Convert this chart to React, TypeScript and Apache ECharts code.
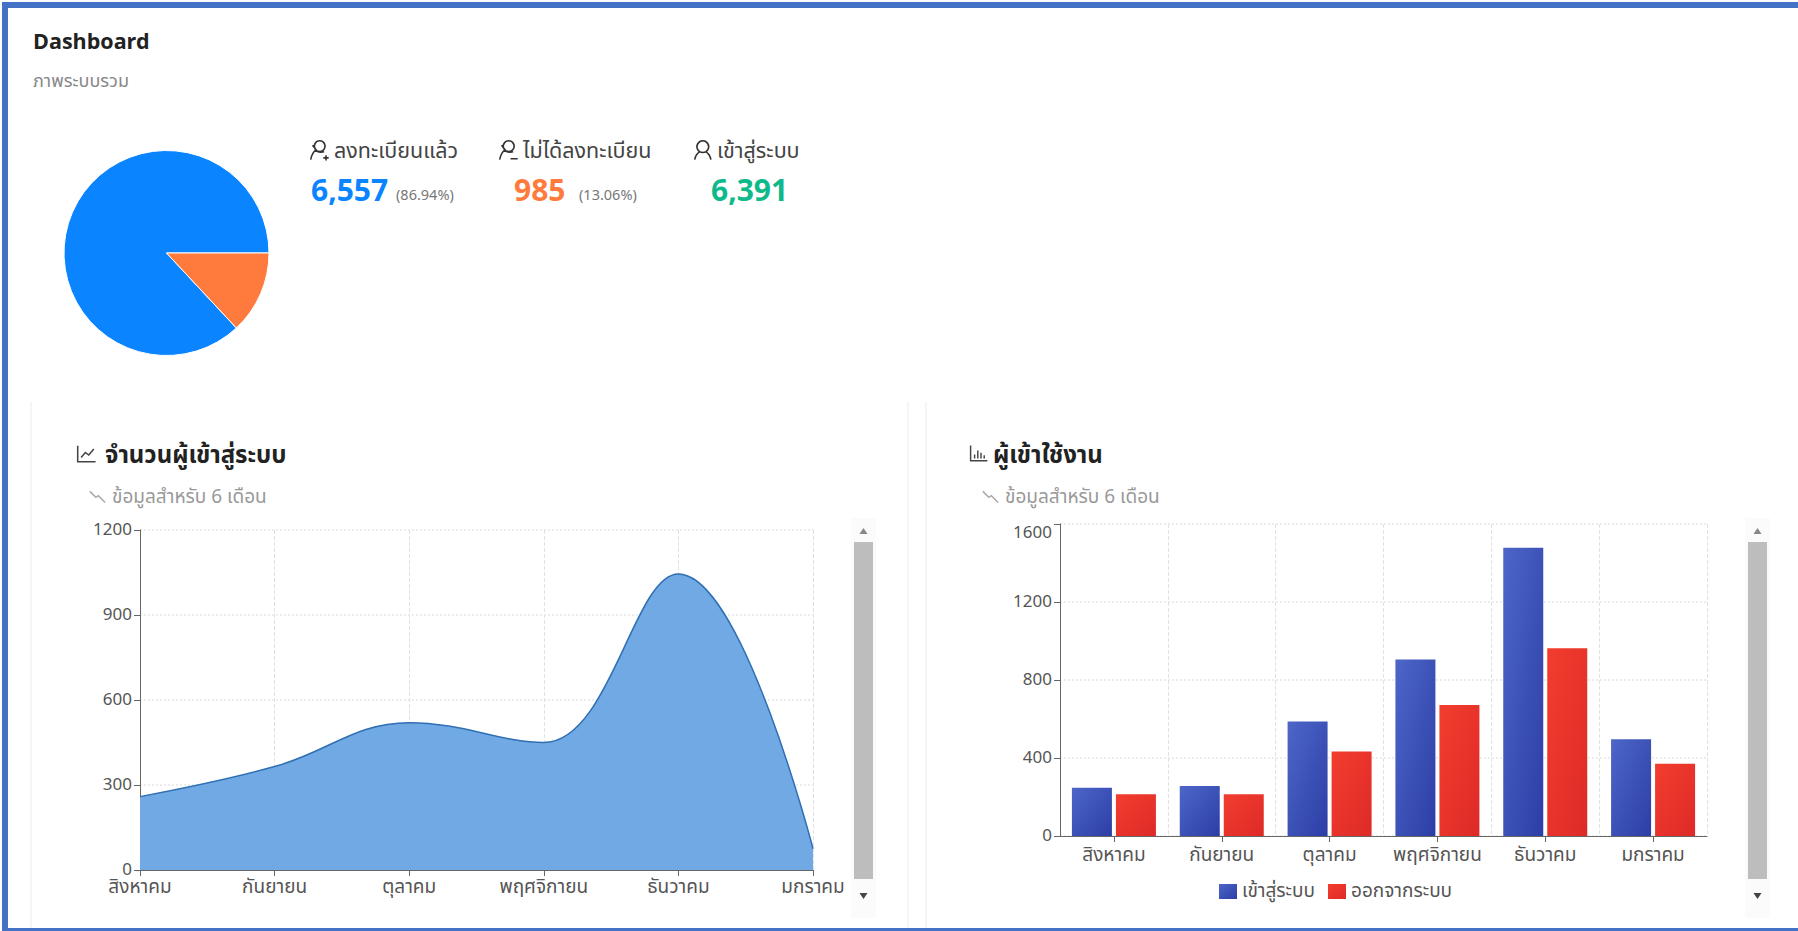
import React, { useEffect, useRef } from "react";
import * as echarts from "echarts";

const months = ["สิงหาคม", "กันยายน", "ตุลาคม", "พฤศจิกายน", "ธันวาคม", "มกราคม"];
const loginTrend = [259, 365, 520, 450, 1045, 75];
const loginValues = [248, 257, 587, 905, 1478, 496];
const logoutValues = [214, 214, 433, 672, 963, 371];
const pieValues = [6557, 985];
const pieNames = ["ลงทะเบียนแล้ว", "ไม่ได้ลงทะเบียน"];

const FONT = "'Noto Sans Thai', Kanit, Prompt, Inter, 'Noto Sans', 'DejaVu Sans', sans-serif";
const TEXT = "#555";

echarts.graphic.registerShape("iconLine", echarts.graphic.extendPath("M2 2V21H23M6 16L11 10L15 13L21 6", {}));
echarts.graphic.registerShape("iconBars", echarts.graphic.extendPath("M2 2V21H23M7 18V13M11 18V8M15 18V11M19 18V14", {}));
echarts.graphic.registerShape("iconDown", echarts.graphic.extendPath("M1 4L8 11L11 9L19 17", {}));
echarts.graphic.registerShape("iconUser", echarts.graphic.extendPath("M12 2A6.5 6.5 0 1 0 12.01 2ZM3 23C4 17 7 15 9 14M21 23C20 17 17 15 15 14", {}));
echarts.graphic.registerShape("iconUserPlus", echarts.graphic.extendPath("M13 2A6 6 0 1 0 13.01 2ZM3 23C4 17 6 14 9 12L5 7M8 13C11 15 16 15 18 14M20 18V24M17 21H23", {}));
echarts.graphic.registerShape("iconUserMinus", echarts.graphic.extendPath("M13 2A6 6 0 1 0 13.01 2ZM3 23C4 17 6 14 9 12L5 7M8 13C11 15 16 15 18 14M15 22H23", {}));

const label = (text: string, x: number, y: number, fontSize: number, fill: string, fontWeight: any = "normal", textAlign = "left") => ({
  type: "text", x, y, z: 20,
  style: { text, fill, fontSize, fontWeight, fontFamily: FONT, textAlign, textVerticalAlign: "middle" },
});
const icon = (type: string, x: number, y: number, s: number, stroke: string) => ({
  type, x, y, scaleX: s, scaleY: s, z: 20,
  style: { fill: "none", stroke, lineWidth: 1.8 },
});
const rect = (x: number, y: number, width: number, height: number, fill: string, z = 1) => ({
  type: "rect", z, silent: true, shape: { x, y, width, height }, style: { fill },
});
const tri = (cx: number, cy: number, up: boolean) => ({
  type: "polygon", z: 12,
  shape: { points: up ? [[cx - 4, cy + 3], [cx + 4, cy + 3], [cx, cy - 3]] : [[cx - 4, cy - 3], [cx + 4, cy - 3], [cx, cy + 3]] },
  style: { fill: up ? "#888" : "#444" },
});
const scrollbar = (x: number) => [
  rect(x - 3, 518, 25, 400, "#fbfbfb", 10),
  rect(x, 542, 19, 337, "#bdbdbd", 11),
  tri(x + 9.5, 531, true),
  tri(x + 9.5, 896, false),
];

const axisCommon = {
  axisLine: { show: true, lineStyle: { color: "#666", width: 1 } },
  axisTick: { show: true, lineStyle: { color: "#666" }, length: 6 },
};
const xLabel = { color: TEXT, fontSize: 19, fontFamily: FONT, interval: 0 };
const yLabel = { color: TEXT, fontSize: 17, fontFamily: FONT, formatter: (v: number) => String(v) };
const vSplit = { show: true, interval: 0, lineStyle: { color: "#e2e2e2", type: "dashed" as const, width: 1 } };
const hSplit = { show: true, lineStyle: { color: "#ececec", type: "dotted" as const, width: 2 } };

export default function App() {
  const ref = useRef<HTMLDivElement>(null);
  useEffect(() => {
    document.body.style.margin = "0";
    const chart = echarts.init(ref.current!, undefined, { renderer: "svg" });
    chart.setOption({
      animation: false,
      backgroundColor: "#fff",
      grid: [
        { left: 140, top: 530, width: 673, height: 340 },
        { left: 1060, top: 524, width: 647, height: 312 },
      ],
      xAxis: [
        { type: "category", gridIndex: 0, data: months, boundaryGap: false, ...axisCommon, axisLabel: { ...xLabel, margin: 8 }, splitLine: vSplit },
        { type: "category", gridIndex: 1, data: months, ...axisCommon, axisLabel: { ...xLabel, margin: 10 }, axisTick: { ...axisCommon.axisTick, alignWithLabel: true, interval: 0 }, splitLine: vSplit },
      ],
      yAxis: [
        { type: "value", gridIndex: 0, min: 0, max: 1200, interval: 300, ...axisCommon, axisLabel: { ...yLabel, margin: 8 }, splitLine: hSplit },
        { type: "value", gridIndex: 1, min: 0, max: 1600, interval: 400, ...axisCommon, axisLabel: { ...yLabel, margin: 8, verticalAlignMaxLabel: "top" }, splitLine: hSplit },
      ],
      legend: {
        data: ["เข้าสู่ระบบ", "ออกจากระบบ"], left: 1214, top: 877, itemWidth: 18, itemHeight: 15, itemGap: 13,
        textStyle: { color: TEXT, fontSize: 19, fontFamily: FONT },
        icon: "rect",
      },
      series: [
        {
          type: "pie", center: [166.5, 253], radius: [0, 102.5], startAngle: 0, clockwise: false,
          label: { show: false }, labelLine: { show: false }, silent: true,
          itemStyle: { borderColor: "#fff", borderWidth: 1 },
          data: [
            { name: pieNames[0], value: pieValues[0], itemStyle: { color: "#0a84ff" } },
            { name: pieNames[1], value: pieValues[1], itemStyle: { color: "#ff7a3d" } },
          ],
        },
        {
          name: "จำนวนผู้เข้าสู่ระบบ", type: "line", xAxisIndex: 0, yAxisIndex: 0, data: loginTrend, smooth: 0.4, showSymbol: false,
          lineStyle: { color: "#2f6fb3", width: 1.5 }, areaStyle: { color: "#70a9e3", opacity: 1 },
        },
        {
          name: "เข้าสู่ระบบ", type: "bar", xAxisIndex: 1, yAxisIndex: 1, data: loginValues, barWidth: 40, barGap: "10%",
          itemStyle: { color: new echarts.graphic.LinearGradient(0, 0, 1, 1, [{ offset: 0, color: "#4d66c8" }, { offset: 1, color: "#2c3ea6" }]) },
        },
        {
          name: "ออกจากระบบ", type: "bar", xAxisIndex: 1, yAxisIndex: 1, data: logoutValues, barWidth: 40,
          itemStyle: { color: new echarts.graphic.LinearGradient(0, 0, 1, 1, [{ offset: 0, color: "#f23d2e" }, { offset: 1, color: "#de2a28" }]) },
        },
      ],
      graphic: [
        rect(30, 402, 2, 529, "#f5f5f5"),
        rect(907, 402, 2, 529, "#f5f5f5"),
        rect(925, 402, 2, 529, "#f5f5f5"),
        rect(2, 2, 1796, 6, "#4472c4", 30),
        rect(2, 2, 6, 929, "#4472c4", 30),
        rect(2, 928, 1796, 3, "#4472c4", 30),
        label("Dashboard", 33, 42, 21.5, "#222", "bold"),
        label("ภาพระบบรวม", 33, 81, 18, "#888"),
        icon("iconUserPlus", 308, 139, 0.9, "#333"),
        label("ลงทะเบียนแล้ว", 334, 151, 21.5, "#444"),
        label("6,557", 311, 192, 30, "#0a84ff", "bold"),
        label("(86.94%)", 396, 196, 14.5, "#777"),
        icon("iconUserMinus", 497, 139, 0.9, "#333"),
        label("ไม่ได้ลงทะเบียน", 523, 151, 21.5, "#444"),
        label("985", 514, 192, 30, "#ff7a3d", "bold"),
        label("(13.06%)", 579, 196, 14.5, "#777"),
        icon("iconUser", 692, 139, 0.9, "#333"),
        label("เข้าสู่ระบบ", 717, 151, 21.5, "#444"),
        label("6,391", 711, 192, 30, "#10b98a", "bold"),
        icon("iconLine", 76, 444, 0.85, "#444"),
        label("จำนวนผู้เข้าสู่ระบบ", 105, 456, 24, "#222", "bold"),
        icon("iconDown", 89, 488, 0.85, "#aaa"),
        label("ข้อมูลสำหรับ 6 เดือน", 112, 497, 19, "#999"),
        icon("iconBars", 969, 444, 0.8, "#444"),
        label("ผู้เข้าใช้งาน", 993, 456, 24, "#222", "bold"),
        icon("iconDown", 982, 488, 0.85, "#aaa"),
        label("ข้อมูลสำหรับ 6 เดือน", 1005, 497, 19, "#999"),
        ...scrollbar(854),
        ...scrollbar(1748),
      ],
    });
    return () => chart.dispose();
  }, []);
  return <div ref={ref} style={{ width: 1798, height: 931 }} />;
}
